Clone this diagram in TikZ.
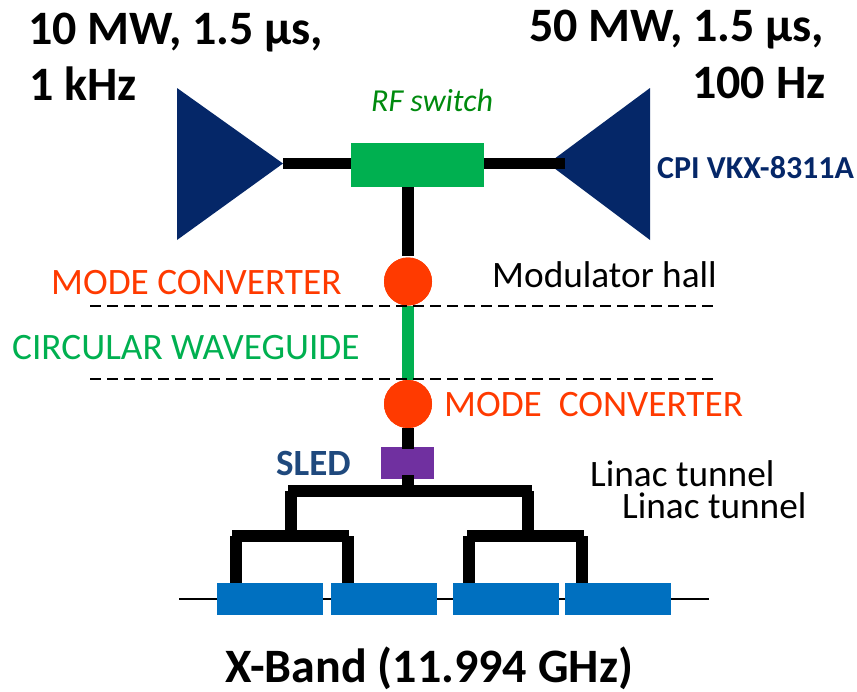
\documentclass[tikz,border=0pt]{standalone}
\usepackage{fontspec}
\setmainfont{Carlito}
\definecolor{klystron}{HTML}{052768}
\definecolor{switchgreen}{HTML}{00B050}
\definecolor{labelgreen}{HTML}{008A0E}
\definecolor{modered}{HTML}{FF3A00}
\definecolor{sledpurple}{HTML}{7030A0}
\definecolor{sledblue}{HTML}{1F497D}
\definecolor{cavityblue}{HTML}{0070C0}
\tikzset{
    waveguide/.style={line width=11.5pt},
    circular/.style={line width=11.5pt, switchgreen},
    converter/.style={circle, fill=modered, inner sep=0pt, minimum size=48pt},
    cavity/.style={fill=cavityblue, inner sep=0pt, minimum width=106pt, minimum height=32pt},
    hallline/.style={line width=2pt, dash pattern=on 11pt off 6pt},
    title/.style={anchor=base west, inner sep=0pt, font=\fontsize{48}{48}\selectfont\bfseries},
    plain/.style={anchor=base west, inner sep=0pt, font=\fontsize{37.3}{37.3}\selectfont}
}
\begin{document}
\begin{tikzpicture}[x=1pt,y=-1pt]
    \useasboundingbox (0,0) rectangle (857,691);

    % Beam line under the cavities
    \coordinate (lineL) at (179,599);
    \coordinate (lineR) at (709,599);
    \draw[line width=1.8pt] (lineL) -- (lineR);

    % Klystrons
    \coordinate (ampL) at (283,163.5);
    \coordinate (ampR) at (548,163.5);
    \coordinate (stubR) at (565,163.5);
    \fill[klystron] (177,88) -- (ampL) -- (177,240) -- cycle;
    \fill[klystron] (650,88) -- (ampR) -- (650,240) -- cycle;

    % RF switch
    \node[fill=switchgreen, inner sep=0pt, minimum width=133pt, minimum height=44pt] (switch) at (417.5,165) {};
    \coordinate (switchS) at (408,187);

    % Mode converters
    \node[converter] (convU) at (408,281.5) {};
    \node[converter] (convD) at (408,404) {};
    \coordinate (convUN) at (408,256);

    % SLED and the feed
    \coordinate (feedT) at (408,428);
    \coordinate (feedB) at (408,491);
    \draw[waveguide] (feedT) -- (feedB);
    \node[fill=sledpurple, inner sep=0pt, minimum width=53pt, minimum height=32pt] (sled) at (407.5,463) {};
    \draw[waveguide] (feedT) -- (408,449);
    \draw[waveguide] (408,475) -- (feedB);

    % Waveguides
    \draw[waveguide] (ampL) -- (switch.west |- ampL);
    \draw[waveguide] (stubR) -- (switch.east |- stubR);
    \draw[waveguide] (switchS) -- (convUN);
    \draw[circular] (convU) -- (convD);
    \node[converter] at (convU) {};
    \node[converter] at (convD) {};

    % Hall boundaries
    \draw[hallline] (90,305.5) -- (715,305.5);
    \draw[hallline] (90,378.5) -- (715,378.5);

    % Cavities
    \node[cavity] (cavA) at (270,599) {};
    \node[cavity] (cavB) at (384,599) {};
    \node[cavity] (cavC) at (506,599) {};
    \node[cavity] (cavD) at (618,599) {};

    % Power distribution
    \draw[waveguide] (288,491) -- (532,491);
    \draw[waveguide] (291,491) -- (291,530);
    \draw[waveguide] (528,491) -- (528,530);
    \draw[waveguide] (232,536) -- (349,536);
    \draw[waveguide] (467,536) -- (584,536);
    \draw[waveguide] (236,536) -- (236,0 |- cavA.north);
    \draw[waveguide] (348,536) -- (348,0 |- cavB.north);
    \draw[waveguide] (469,536) -- (469,0 |- cavC.north);
    \draw[waveguide] (582,536) -- (582,0 |- cavD.north);

    % Labels
    \node[title] (powerL) at (28,44) {10 MW, 1.5 µs,};
    \node[title] (repL) at (29,100) {1 kHz};
    \node[title] (powerR) at (529,41) {50 MW, 1.5 µs,};
    \node[title] (repR) at (692,98) {100 Hz};
    \node[anchor=base west, inner sep=0pt, font=\fontsize{32}{32}\selectfont\itshape, text=labelgreen] (switchlabel) at (371,111) {RF switch};
    \node[anchor=base west, inner sep=0pt, font=\fontsize{32}{32}\selectfont\bfseries, text=klystron] (cpi) at (657,178) {CPI VKX-8311A};
    \node[plain, text=modered] (modeU) at (51,294) {MODE CONVERTER};
    \node[plain] (hall) at (492,287) {Modulator hall};
    \node[plain, text=switchgreen] (guide) at (12,359) {CIRCULAR WAVEGUIDE};
    \node[plain, text=modered] (modeD) at (444,416) {MODE\ \ CONVERTER};
    \node[anchor=base west, inner sep=0pt, font=\fontsize{37}{37}\selectfont\bfseries, text=sledblue] (sledlabel) at (276,475) {SLED};
    \node[plain] (tunnelA) at (590,486) {Linac tunnel};
    \node[plain] (tunnelB) at (622,518) {Linac tunnel};
    \node[title] (band) at (225,682) {X-Band (11.994 GHz)};
\end{tikzpicture}
\end{document}
